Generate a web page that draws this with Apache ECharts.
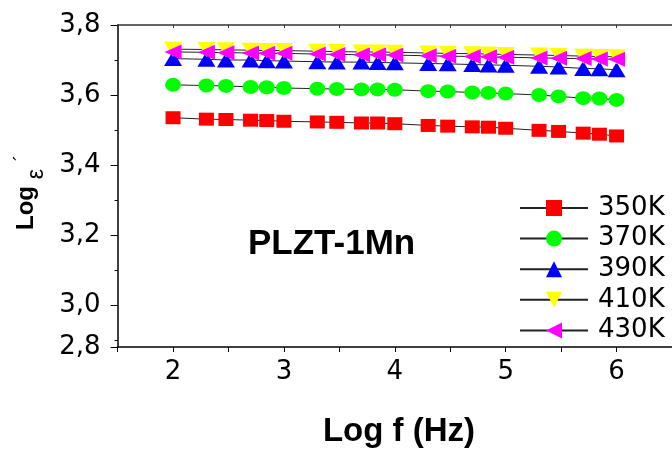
<!DOCTYPE html>
<html>
<head>
<meta charset="utf-8">
<script src="https://cdn.jsdelivr.net/npm/echarts@6/dist/echarts.min.js"></script>
<style>
html,body{margin:0;padding:0;background:#fff;}
#chart{width:672px;height:449px;}
</style>
</head>
<body>
<div id="chart"></div>
<script>
// ---- data ----
const logF = [2, 2.301, 2.477, 2.699, 2.845, 3, 3.301, 3.477, 3.699, 3.845, 4, 4.301, 4.477, 4.699, 4.845, 5, 5.301, 5.477, 5.699, 5.845, 6];
const seriesNames = ['350K', '370K', '390K', '410K', '430K'];
const eps350 = [3.535, 3.531, 3.530, 3.528, 3.527, 3.525, 3.523, 3.522, 3.520, 3.520, 3.518, 3.513, 3.511, 3.509, 3.508, 3.505, 3.499, 3.496, 3.491, 3.488, 3.483];
const eps370 = [3.629, 3.627, 3.626, 3.623, 3.622, 3.620, 3.618, 3.617, 3.616, 3.616, 3.615, 3.611, 3.610, 3.607, 3.606, 3.604, 3.600, 3.596, 3.591, 3.590, 3.586];
const eps390 = [3.704, 3.702, 3.700, 3.700, 3.698, 3.697, 3.695, 3.694, 3.694, 3.693, 3.692, 3.690, 3.689, 3.687, 3.686, 3.685, 3.682, 3.680, 3.676, 3.675, 3.672];
const eps410 = [3.731, 3.730, 3.729, 3.728, 3.727, 3.727, 3.725, 3.724, 3.723, 3.723, 3.722, 3.720, 3.719, 3.718, 3.717, 3.716, 3.714, 3.713, 3.711, 3.710, 3.709];
const eps430 = [3.723, 3.722, 3.721, 3.720, 3.719, 3.719, 3.717, 3.716, 3.715, 3.715, 3.714, 3.712, 3.711, 3.710, 3.709, 3.708, 3.706, 3.705, 3.704, 3.703, 3.702];
const yTickValues = [2.88, 3.0, 3.2, 3.4, 3.6, 3.8];
const yTickLabels = ['2,8', '3,0', '3,2', '3,4', '3,6', '3,8'];
const yMinorTicks = [2.9, 3.1, 3.3, 3.5, 3.7];
const xTickLabels = ['2', '3', '4', '5', '6'];
const xTickValues = [2, 3, 4, 5, 6];

const FONT = '"Liberation Sans", Arial, sans-serif';
const FONT_REG = '"DejaVu Sans", "Liberation Sans", Arial, sans-serif';
const chart = echarts.init(document.getElementById('chart'), null, {renderer: 'canvas'});

function pairs(ys) { return logF.map((x, i) => [x, ys[i]]); }

const styles = [
  {symbol: 'rect', size: [15, 13], rot: 0, color: '#ff0000', data: eps350},
  {symbol: 'circle', size: [16, 14], rot: 0, color: '#00ff00', data: eps370},
  {symbol: 'triangle', size: [18, 15], rot: 0, color: '#0000ff', data: eps390},
  {symbol: 'triangle', size: [18, 15], rot: 180, color: '#ffff00', data: eps410},
  {symbol: 'triangle', size: [15, 17], rot: 90, color: '#ff00ff', data: eps430}
];

const series = styles.map((s, i) => ({
  name: seriesNames[i],
  type: 'line',
  data: pairs(s.data),
  symbol: s.symbol,
  symbolSize: s.size,
  symbolRotate: s.rot,
  showAllSymbol: true,
  lineStyle: {color: '#222', width: 1},
  itemStyle: {color: s.color, borderWidth: 0},
  emphasis: {disabled: true},
  z: 2 + i
}));

const option = {
  animation: false,
  backgroundColor: '#fff',
  grid: {left: 117.6, top: 25, width: 563.75, height: 322, containLabel: false},
  xAxis: [{
    type: 'value', position: 'bottom', min: 1.5, max: 6.5, interval: 0.5,
    splitLine: {show: false},
    axisLine: {show: true, onZero: false, lineStyle: {color: '#000', width: 1.5}},
    axisTick: {show: true, inside: false, length: 5, lineStyle: {color: '#000', width: 1}},
    axisLabel: {
      customValues: xTickValues,
      formatter: v => { const k = xTickValues.indexOf(v); return k >= 0 ? xTickLabels[k] : ''; },
      fontFamily: FONT_REG, fontSize: 26, color: '#000', margin: 12
    }
  }, {
    type: 'value', position: 'top', min: 1.5, max: 6.5, interval: 0.5,
    splitLine: {show: false},
    axisLine: {show: true, onZero: false, lineStyle: {color: '#333', width: 1.5}},
    axisTick: {show: true, inside: true, length: 3, lineStyle: {color: '#333'}},
    axisLabel: {show: false}
  }],
  yAxis: [{
    type: 'value', position: 'left', min: 2.88, max: 3.8,
    splitLine: {show: false},
    axisLine: {show: true, onZero: false, lineStyle: {color: '#000', width: 1.5}},
    axisTick: {show: true, inside: false, length: 7, customValues: yTickValues, lineStyle: {color: '#000'}},
    axisLabel: {
      customValues: yTickValues,
      formatter: v => { const k = yTickValues.indexOf(v); return k >= 0 ? yTickLabels[k] : ''; },
      fontFamily: FONT_REG, fontSize: 26, color: '#000', margin: 17
    }
  }, {
    type: 'value', position: 'left', min: 2.88, max: 3.8, offset: 0,
    splitLine: {show: false},
    axisLine: {show: false},
    axisTick: {show: true, inside: false, length: 3, customValues: yMinorTicks, lineStyle: {color: '#000'}},
    axisLabel: {show: false}
  }],
  legend: {
    orient: 'vertical', left: 519, top: 195, padding: 0,
    itemWidth: 68, itemHeight: 20, itemGap: 4.6,
    data: seriesNames,
    textStyle: {fontFamily: FONT_REG, fontSize: 26, color: '#000', padding: [0, 0, 0, 5]},
    selectedMode: false
  },
  graphic: [
    {type: 'text', x: 248, y: 244, style: {text: 'PLZT-1Mn', font: 'bold 35px ' + FONT, fill: '#000', textAlign: 'left', textVerticalAlign: 'middle'}},
    {type: 'text', x: 399, y: 432, style: {text: 'Log f (Hz)', font: 'bold 33px ' + FONT, fill: '#000', textAlign: 'center', textVerticalAlign: 'middle'}},
    {type: 'text', x: 26, y: 208, rotation: Math.PI / 2, style: {text: 'Log', font: 'bold 24px ' + FONT, fill: '#000', textAlign: 'center', textVerticalAlign: 'middle'}},
    {type: 'text', x: 37, y: 174, rotation: Math.PI / 2, style: {text: 'ε', font: '23px ' + FONT, fill: '#000', textAlign: 'center', textVerticalAlign: 'middle'}},
    {type: 'text', x: 22, y: 158, rotation: Math.PI / 2, style: {text: '´', font: '20px ' + FONT, fill: '#000', textAlign: 'center', textVerticalAlign: 'middle'}}
  ],
  series: series
};
chart.setOption(option);
</script>
</body>
</html>
